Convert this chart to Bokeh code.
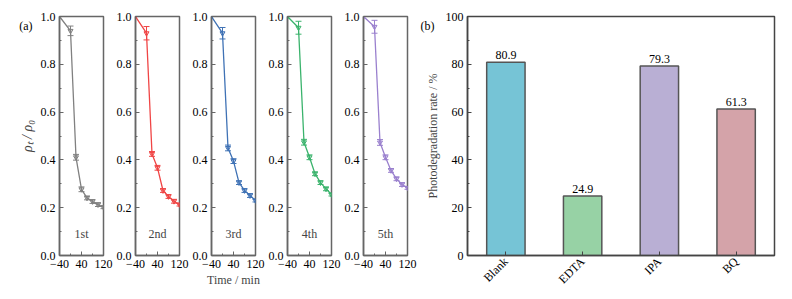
import math
from bokeh.plotting import figure
from bokeh.layouts import row
from bokeh.models import (ColumnDataSource, Whisker, TeeHead, Label, FixedTicker,
                          Range1d, PrintfTickFormatter, LinearAxis, CustomJSTickFormatter)
from bokeh.embed import file_html
from bokeh.resources import INLINE

# ---------------- data ----------------
time_min = [-40, 0, 20, 40, 60, 80, 100, 120]
run_labels = ["1st", "2nd", "3rd", "4th", "5th"]
ratio_1st = [1.0, 0.940, 0.411, 0.277, 0.241, 0.226, 0.213, 0.202]
ratio_2nd = [1.0, 0.930, 0.425, 0.367, 0.272, 0.247, 0.227, 0.213]
ratio_3rd = [1.0, 0.930, 0.450, 0.395, 0.305, 0.272, 0.251, 0.230]
ratio_4th = [1.0, 0.953, 0.474, 0.411, 0.342, 0.305, 0.279, 0.255]
ratio_5th = [1.0, 0.957, 0.473, 0.411, 0.356, 0.321, 0.297, 0.283]
err_1st = [0.0, 0.020, 0.012, 0.010, 0.008, 0.008, 0.008, 0.006]
err_2nd = [0.0, 0.028, 0.010, 0.010, 0.008, 0.008, 0.008, 0.006]
err_3rd = [0.0, 0.024, 0.012, 0.010, 0.008, 0.008, 0.008, 0.006]
err_4th = [0.0, 0.027, 0.012, 0.010, 0.008, 0.008, 0.008, 0.006]
err_5th = [0.0, 0.027, 0.012, 0.010, 0.008, 0.008, 0.008, 0.006]
run_colors = ["#808080", "#F04545", "#3F72B5", "#3AB36C", "#9A80CE"]

scavengers = ["Blank", "EDTA", "IPA", "BQ"]
rates = [80.9, 24.9, 79.3, 61.3]
bar_colors = ["#76C4D6", "#97D2A5", "#B9AFD4", "#D4A3A9"]
panel_tags = ["(a)", "(b)"]

FONT = "Liberation Serif"
ratios = [ratio_1st, ratio_2nd, ratio_3rd, ratio_4th, ratio_5th]
errs = [err_1st, err_2nd, err_3rd, err_4th, err_5th]


def style_axes(p, frame_color):
    for ax in (p.xaxis[0], p.yaxis[0]):
        ax.major_label_text_font = FONT
        ax.major_label_text_font_size = "12px"
        ax.major_label_text_color = "black"
        ax.axis_label_text_font = FONT
        ax.axis_label_text_font_style = "normal"
        ax.axis_label_text_font_size = "12px"
        ax.axis_line_color = frame_color
        ax.axis_line_width = 1.5
        ax.major_tick_in = 4
        ax.major_tick_out = 0
        ax.minor_tick_in = 2
        ax.minor_tick_out = 0
        ax.major_tick_line_color = frame_color
        ax.minor_tick_line_color = frame_color
        ax.major_label_standoff = 4
    p.outline_line_color = frame_color
    p.outline_line_width = 1.5
    p.grid.visible = False


def add_tag(p, tag, yval, standoff):
    ax = LinearAxis(ticker=FixedTicker(ticks=[yval], minor_ticks=[]),
                    formatter=CustomJSTickFormatter(code="return %r;" % tag),
                    axis_line_color=None, major_tick_line_color=None,
                    minor_tick_line_color=None, major_tick_in=0, major_tick_out=0,
                    major_label_standoff=standoff,
                    major_label_text_font=FONT, major_label_text_font_size="12px",
                    major_label_text_color="black")
    p.add_layout(ax, "left")


panels = []
for i in range(5):
    left = 59 if i == 0 else 22
    p = figure(frame_width=44, frame_height=239,
               x_range=Range1d(-40, 120), y_range=Range1d(0, 1),
               min_border_left=left, min_border_right=10,
               min_border_top=16, min_border_bottom=30,
               output_backend="svg", toolbar_location=None)
    col = run_colors[i]
    y = ratios[i]
    e = errs[i]
    src = ColumnDataSource(dict(x=time_min, y=y,
                                upper=[a + b for a, b in zip(y, e)],
                                lower=[a - b for a, b in zip(y, e)]))
    p.line("x", "y", source=src, line_color=col, line_width=1.3)
    p.scatter("x", "y", source=src, marker="inverted_triangle", size=5,
              line_color=col, fill_color=col, fill_alpha=0.3)
    p.add_layout(Whisker(source=src, base="x", upper="upper", lower="lower",
                         line_color=col, line_width=1,
                         upper_head=TeeHead(size=6, line_color=col, line_width=1),
                         lower_head=TeeHead(size=6, line_color=col, line_width=1)))
    p.xaxis.ticker = FixedTicker(ticks=[-40, 40, 120], minor_ticks=[0, 80])
    p.xaxis.major_label_overrides = {-40: "\u221240"}
    p.yaxis.ticker = FixedTicker(ticks=[0, 0.2, 0.4, 0.6, 0.8, 1.0],
                                 minor_ticks=[0.1, 0.3, 0.5, 0.7, 0.9])
    p.yaxis.formatter = PrintfTickFormatter(format="%.1f")
    style_axes(p, "#666666")
    p.add_layout(Label(x=40, y=0.09, text=run_labels[i], text_font=FONT,
                       text_font_size="12px", text_align="center",
                       text_baseline="middle"))
    if i == 0:
        p.yaxis.axis_label = "\u03c1\u209c / \u03c1\u2080"
        p.yaxis.axis_label_text_font_style = "italic"
        p.yaxis.axis_label_text_font_size = "14px"
        p.yaxis.axis_label_standoff = 3
        add_tag(p, panel_tags[0], 0.962, -16)
    if i == 2:
        p.xaxis.axis_label = "Time / min"
        p.xaxis.axis_label_standoff = 2
    panels.append(p)

# ---------------- panel (b) ----------------
xpos = list(range(1, len(scavengers) + 1))
pb = figure(frame_width=307, frame_height=239,
            x_range=Range1d(0.5, len(scavengers) + 0.5), y_range=Range1d(0, 100),
            min_border_left=47, min_border_right=16,
            min_border_top=16, min_border_bottom=30,
            output_backend="svg", toolbar_location=None)
bsrc = ColumnDataSource(dict(x=xpos, top=rates, color=bar_colors,
                             txt=[f"{r:.1f}" for r in rates]))
pb.vbar(x="x", top="top", width=0.5, bottom=0, source=bsrc, fill_color="color",
        line_color="#555555", line_width=1.5)
pb.text(x="x", y="top", text="txt", source=bsrc, text_font_size="12px",
        text_align="center", text_baseline="bottom", y_offset=-3,
        text_color="black", text_font={"value": FONT})
pb.xaxis.ticker = FixedTicker(ticks=xpos, minor_ticks=[])
pb.xaxis.major_label_overrides = {x: s for x, s in zip(xpos, scavengers)}
pb.yaxis.ticker = FixedTicker(ticks=[0, 20, 40, 60, 80, 100],
                              minor_ticks=[10, 30, 50, 70, 90])
style_axes(pb, "#444444")
pb.xaxis.major_label_orientation = math.pi / 4
pb.yaxis.axis_label = "Photodegradation rate / %"
pb.yaxis.axis_label_standoff = 3
add_tag(pb, panel_tags[1], 96.2, -12)

layout = row(*panels, pb, spacing=0)
open("out.html", "w").write(file_html(layout, INLINE))
